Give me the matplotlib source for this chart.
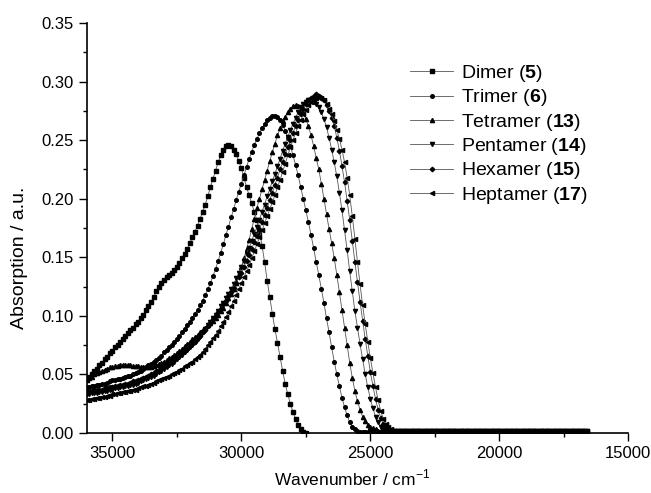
import numpy as np
import matplotlib
matplotlib.use("Agg")
import matplotlib.pyplot as plt


# absorption read every 100 cm-1, starting at 36000 cm-1 and going down
START_WN = 36000
STEP_WN = 100

dimer = [0.046, 0.048, 0.050, 0.053, 0.055, 0.058, 0.060, 0.063, 0.065, 0.068,
         0.070, 0.073, 0.075, 0.078, 0.080, 0.083, 0.085, 0.088, 0.090, 0.093,
         0.095, 0.098, 0.101, 0.105, 0.108, 0.112, 0.116, 0.121, 0.125, 0.128,
         0.131, 0.133, 0.135, 0.137, 0.139, 0.142, 0.145, 0.149, 0.153, 0.157,
         0.162, 0.167, 0.172, 0.177, 0.183, 0.189, 0.195, 0.202, 0.210, 0.217,
         0.224, 0.231, 0.237, 0.242, 0.245, 0.246, 0.245, 0.242, 0.238, 0.232,
         0.226, 0.218, 0.210, 0.203, 0.196, 0.189, 0.182, 0.172, 0.160, 0.146,
         0.130, 0.116, 0.102, 0.089, 0.077, 0.065, 0.053, 0.042, 0.033, 0.025,
         0.018, 0.012, 0.007, 0.003, 0.001, 0.000]
trimer = [0.039, 0.039, 0.040, 0.040, 0.041, 0.041, 0.042, 0.042, 0.043, 0.044,
          0.045, 0.045, 0.046, 0.046, 0.047, 0.048, 0.049, 0.049, 0.050, 0.051,
          0.052, 0.053, 0.055, 0.056, 0.058, 0.059, 0.061, 0.062, 0.064, 0.066,
          0.069, 0.071, 0.073, 0.075, 0.078, 0.080, 0.083, 0.086, 0.089, 0.092,
          0.095, 0.098, 0.102, 0.105, 0.109, 0.113, 0.118, 0.123, 0.128, 0.134,
          0.140, 0.147, 0.154, 0.161, 0.169, 0.176, 0.184, 0.191, 0.199, 0.206,
          0.213, 0.220, 0.227, 0.234, 0.240, 0.246, 0.251, 0.256, 0.260, 0.264,
          0.267, 0.269, 0.271, 0.271, 0.270, 0.267, 0.263, 0.258, 0.252, 0.245,
          0.237, 0.229, 0.220, 0.210, 0.200, 0.190, 0.180, 0.169, 0.158, 0.146,
          0.135, 0.123, 0.111, 0.098, 0.086, 0.073, 0.061, 0.050, 0.040, 0.030,
          0.022, 0.015, 0.009, 0.005, 0.003, 0.002, 0.001, 0.001, 0.001, 0.001,
          0.001, 0.001, 0.001, 0.001, 0.001, 0.001, 0.001, 0.001, 0.001, 0.001,
          0.001]
tetramer = [0.045, 0.047, 0.048, 0.050, 0.051, 0.052, 0.053, 0.054, 0.055, 0.056,
            0.056, 0.057, 0.057, 0.058, 0.058, 0.058, 0.058, 0.058, 0.057, 0.057,
            0.057, 0.056, 0.056, 0.056, 0.056, 0.056, 0.057, 0.058, 0.059, 0.060,
            0.061, 0.062, 0.064, 0.065, 0.067, 0.068, 0.070, 0.072, 0.074, 0.076,
            0.078, 0.080, 0.082, 0.084, 0.086, 0.088, 0.090, 0.092, 0.094, 0.096,
            0.098, 0.101, 0.104, 0.107, 0.111, 0.115, 0.119, 0.123, 0.128, 0.135,
            0.142, 0.149, 0.157, 0.165, 0.174, 0.183, 0.192, 0.200, 0.208, 0.216,
            0.224, 0.232, 0.240, 0.247, 0.254, 0.260, 0.266, 0.270, 0.274, 0.277,
            0.279, 0.280, 0.279, 0.276, 0.273, 0.268, 0.262, 0.254, 0.245, 0.235,
            0.225, 0.213, 0.200, 0.187, 0.174, 0.162, 0.149, 0.135, 0.120, 0.105,
            0.090, 0.075, 0.060, 0.047, 0.036, 0.027, 0.020, 0.014, 0.010, 0.007,
            0.005, 0.004, 0.003, 0.002, 0.002, 0.002, 0.002, 0.002, 0.002, 0.002,
            0.002]
pentamer = [0.033, 0.033, 0.034, 0.034, 0.034, 0.035, 0.035, 0.036, 0.036, 0.037,
            0.037, 0.038, 0.038, 0.039, 0.039, 0.040, 0.040, 0.041, 0.041, 0.042,
            0.043, 0.044, 0.045, 0.046, 0.047, 0.048, 0.049, 0.050, 0.052, 0.053,
            0.055, 0.056, 0.058, 0.059, 0.061, 0.063, 0.065, 0.067, 0.069, 0.071,
            0.073, 0.075, 0.078, 0.080, 0.083, 0.086, 0.089, 0.092, 0.095, 0.098,
            0.101, 0.104, 0.108, 0.111, 0.115, 0.119, 0.123, 0.127, 0.132, 0.137,
            0.142, 0.147, 0.153, 0.158, 0.164, 0.170, 0.176, 0.182, 0.189, 0.195,
            0.202, 0.208, 0.215, 0.221, 0.228, 0.234, 0.241, 0.247, 0.253, 0.259,
            0.264, 0.269, 0.274, 0.278, 0.281, 0.283, 0.284, 0.284, 0.283, 0.281,
            0.278, 0.274, 0.268, 0.261, 0.252, 0.242, 0.231, 0.219, 0.205, 0.190,
            0.173, 0.156, 0.138, 0.121, 0.104, 0.090, 0.076, 0.063, 0.050, 0.039,
            0.029, 0.021, 0.014, 0.009, 0.005, 0.003, 0.002, 0.002, 0.002, 0.002,
            0.002]
hexamer = [0.036, 0.036, 0.036, 0.037, 0.037, 0.037, 0.037, 0.038, 0.038, 0.039,
           0.039, 0.040, 0.040, 0.041, 0.041, 0.042, 0.042, 0.043, 0.044, 0.044,
           0.045, 0.046, 0.047, 0.048, 0.049, 0.050, 0.051, 0.053, 0.054, 0.056,
           0.057, 0.059, 0.060, 0.062, 0.063, 0.065, 0.066, 0.068, 0.070, 0.072,
           0.074, 0.076, 0.078, 0.081, 0.083, 0.086, 0.088, 0.091, 0.094, 0.097,
           0.100, 0.103, 0.106, 0.110, 0.113, 0.117, 0.120, 0.124, 0.128, 0.133,
           0.137, 0.142, 0.147, 0.152, 0.157, 0.163, 0.168, 0.174, 0.180, 0.186,
           0.192, 0.199, 0.205, 0.212, 0.218, 0.225, 0.231, 0.238, 0.244, 0.250,
           0.256, 0.262, 0.267, 0.272, 0.277, 0.281, 0.284, 0.286, 0.288, 0.289,
           0.288, 0.286, 0.284, 0.280, 0.275, 0.269, 0.262, 0.252, 0.241, 0.228,
           0.214, 0.198, 0.182, 0.164, 0.146, 0.129, 0.112, 0.096, 0.080, 0.066,
           0.052, 0.040, 0.029, 0.020, 0.013, 0.008, 0.005, 0.003, 0.002, 0.002,
           0.002]
heptamer = [0.028, 0.028, 0.029, 0.029, 0.030, 0.030, 0.031, 0.031, 0.032, 0.032,
            0.033, 0.033, 0.034, 0.034, 0.035, 0.035, 0.036, 0.036, 0.037, 0.037,
            0.038, 0.039, 0.040, 0.040, 0.041, 0.042, 0.043, 0.044, 0.045, 0.046,
            0.047, 0.048, 0.049, 0.050, 0.051, 0.052, 0.054, 0.055, 0.057, 0.058,
            0.060, 0.061, 0.063, 0.065, 0.067, 0.069, 0.072, 0.075, 0.078, 0.081,
            0.084, 0.087, 0.091, 0.095, 0.099, 0.103, 0.108, 0.113, 0.118, 0.123,
            0.128, 0.133, 0.138, 0.143, 0.149, 0.155, 0.161, 0.167, 0.173, 0.179,
            0.185, 0.191, 0.197, 0.203, 0.210, 0.216, 0.223, 0.230, 0.237, 0.244,
            0.250, 0.256, 0.262, 0.267, 0.272, 0.276, 0.280, 0.283, 0.285, 0.286,
            0.287, 0.286, 0.284, 0.281, 0.277, 0.272, 0.266, 0.259, 0.251, 0.242,
            0.231, 0.218, 0.203, 0.185, 0.166, 0.146, 0.127, 0.109, 0.093, 0.078,
            0.064, 0.051, 0.039, 0.028, 0.019, 0.012, 0.008, 0.005, 0.003, 0.002,
            0.002]
# flat baseline from 23900 down to 16600 cm-1, shared by the longer scans
baseline = [0.002, 0.002, 0.002, 0.002, 0.002, 0.002, 0.002, 0.002, 0.002, 0.002,
            0.002, 0.002, 0.002, 0.002, 0.002, 0.002, 0.002, 0.002, 0.002, 0.002,
            0.002, 0.002, 0.002, 0.002, 0.002, 0.002, 0.002, 0.002, 0.002, 0.002,
            0.002, 0.002, 0.002, 0.002, 0.002, 0.002, 0.002, 0.002, 0.002, 0.002,
            0.002, 0.002, 0.002, 0.002, 0.002, 0.002, 0.002, 0.002, 0.002, 0.002,
            0.002, 0.002, 0.002, 0.002, 0.002, 0.002, 0.002, 0.002, 0.002, 0.002,
            0.002, 0.002, 0.002, 0.002, 0.002, 0.002, 0.002, 0.002, 0.002, 0.002,
            0.002, 0.002, 0.002, 0.002]

labels = ["Dimer ($\\mathbf{5}$)", "Trimer ($\\mathbf{6}$)", "Tetramer ($\\mathbf{13}$)",
          "Pentamer ($\\mathbf{14}$)", "Hexamer ($\\mathbf{15}$)", "Heptamer ($\\mathbf{17}$)"]
markers = ["s", "o", "^", "v", "D", "<"]
sizes = [2.4, 2.6, 3.0, 3.0, 2.3, 3.0]

plt.rcParams["font.family"] = ["Liberation Sans", "DejaVu Sans"]
plt.rcParams["mathtext.fontset"] = "custom"
plt.rcParams["mathtext.rm"] = "Liberation Sans"
plt.rcParams["mathtext.bf"] = "Liberation Sans:bold"

fig = plt.figure(figsize=(6.51, 4.93), dpi=100)
ax = fig.add_axes([0.133, 0.1217, 0.8322, 0.8316])

series = [dimer, trimer, tetramer, pentamer, hexamer, heptamer]
for i, vals in enumerate(series):
    y = vals if i == 0 else vals + baseline
    x = START_WN - STEP_WN * np.arange(len(y))
    ax.plot(x, y, color="#555555", lw=0.6, marker=markers[i], ms=sizes[i],
            mfc="black", mec="black", label=labels[i])

ax.set_xlim(36000, 15000)
ax.set_ylim(0, 0.35)
ax.set_xticks([35000, 30000, 25000, 20000, 15000])
ax.set_xticks([32500, 27500, 22500, 17500], minor=True)
ax.set_yticks(np.arange(0, 0.351, 0.05))
ax.set_yticks(np.arange(0.025, 0.35, 0.05), minor=True)
ax.yaxis.set_major_formatter(plt.FormatStrFormatter("%.2f"))
ax.tick_params(which="major", direction="out", length=6, width=1, labelsize=12)
ax.tick_params(which="minor", direction="out", length=3, width=1)
ax.spines["top"].set_visible(False)
ax.spines["right"].set_visible(False)
ax.spines["left"].set_linewidth(1.2)
ax.spines["bottom"].set_linewidth(1.2)

fig.text(352 / 651, 1 - 478 / 493, "Wavenumber / cm$^{-1}$", fontsize=12.5,
         ha="center", va="center")
fig.text(20 / 651, 1 - 258 / 493, "Absorption / a.u.", fontsize=14,
         rotation=90, ha="center", va="center")

ax.legend(loc="upper left", bbox_to_anchor=(0.630, 0.872), bbox_transform=fig.transFigure,
          frameon=False, fontsize=14, handlelength=2.2, handletextpad=0.4,
          labelspacing=0.17, borderpad=0, borderaxespad=0)

fig.savefig("out.png", dpi=100)
